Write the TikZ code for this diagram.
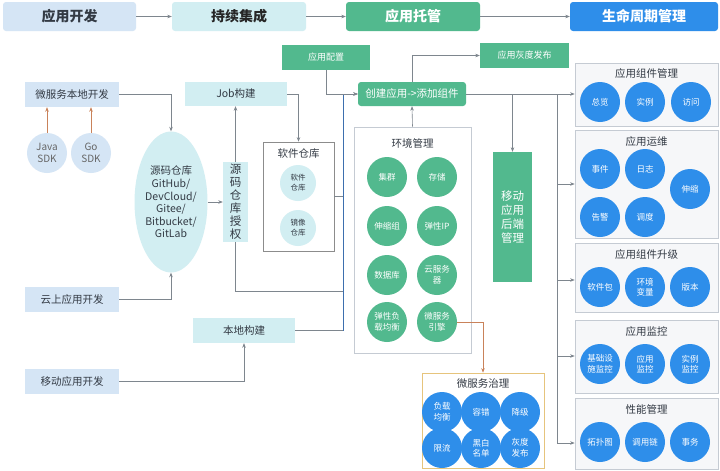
\documentclass[tikz,border=0pt]{standalone}
\usepackage{fontspec}
\setmainfont{Noto Sans CJK SC}
\usetikzlibrary{arrows.meta,shapes.geometric}
\definecolor{devc}{HTML}{D5E5F5}
\definecolor{cic}{HTML}{D2EEF2}
\definecolor{grn}{HTML}{52B98E}
\definecolor{blu}{HTML}{2E8EEA}
\definecolor{txt}{HTML}{333A44}
\definecolor{lc}{HTML}{7E868E}
\definecolor{orn}{HTML}{C9825A}
\definecolor{bln}{HTML}{3D6FAE}
\definecolor{pgray}{HTML}{C5CBD3}
\definecolor{panelc}{HTML}{F6F7F9}
\definecolor{yel}{HTML}{E6C47C}
\tikzset{
  hdr/.style={rounded corners=3pt, minimum height=29, inner sep=0, font=\fontsize{14}{16}\selectfont\bfseries},
  devbox/.style={fill=devc, minimum width=94, minimum height=25, inner sep=0, text=txt, font=\fontsize{10.5}{12}\selectfont},
  cibox/.style={fill=cic, minimum height=25, inner sep=0, text=txt, font=\fontsize{10.5}{12}\selectfont},
  gbox/.style={fill=grn, minimum height=25, inner sep=0, text=white, font=\fontsize{9}{11}\selectfont},
  gcirc/.style={circle, fill=grn, minimum size=40, inner sep=0, text=white, align=center, font=\fontsize{8.5}{10.5}\selectfont},
  bcirc/.style={circle, fill=blu, minimum size=40, inner sep=0, text=white, align=center, font=\fontsize{8.5}{10.5}\selectfont},
  ccirc/.style={circle, fill=cic, minimum size=36, inner sep=0, text=txt, align=center, font=\fontsize{7.5}{10}\selectfont},
  panel/.style={draw=pgray, fill=panelc, line width=0.7pt, inner sep=0},
  ptitle/.style={text=txt, font=\fontsize{10.5}{12}\selectfont, inner sep=0},
  ln/.style={draw=lc, line width=0.6pt},
  arr/.style={ln, -{Stealth[length=4.5pt,width=3.5pt]}},
  oarr/.style={draw=orn, line width=0.6pt, -{Stealth[length=4.5pt,width=3.5pt]}},
}
\begin{document}
\begin{tikzpicture}[x=1pt,y=-1pt]
\useasboundingbox (0,0) rectangle (720,471);
\fill[white] (0,0) rectangle (720,471);

% header
\node[hdr, fill=devc, text=txt, minimum width=133] (hdev) at (69.5,16.5) {应用开发};
\node[hdr, fill=cic, text=black!85, minimum width=134] (hci) at (239,16.5) {持续集成};
\node[hdr, fill=grn, text=white, minimum width=134] (hhost) at (413,16.5) {应用托管};
\node[hdr, fill=blu, text=white, minimum width=148] (hlife) at (644,16.5) {生命周期管理};
\draw[arr] (hdev) -- (hci);
\draw[arr] (hci) -- (hhost);
\draw[arr] (hhost) -- (hlife);

% left: development
\node[devbox] (mlocal) at (72,94.5) {微服务本地开发};
\node[devbox] (cloud) at (72,299.5) {云上应用开发};
\node[devbox] (mdev) at (72,381.5) {移动应用开发};
\node[circle, fill=devc, minimum size=40, inner sep=0, text=black!60, align=center, font=\fontsize{10}{12}\selectfont] (java) at (47,153) {Java\\SDK};
\node[circle, fill=devc, minimum size=40, inner sep=0, text=black!60, align=center, font=\fontsize{10}{12}\selectfont] (go) at (91,153) {Go\\SDK};
\draw[oarr] (java) -- (java |- mlocal.south);
\draw[oarr] (go) -- (go |- mlocal.south);

% source repo
\node[ellipse, fill=cic, minimum width=72, minimum height=141, inner sep=0, text=txt, align=center, font=\fontsize{10.5}{12.6}\selectfont] (repo) at (171,202) {源码仓库\\GitHub/\\DevCloud/\\Gitee/\\Bitbucket/\\GitLab};
\node[cibox, minimum width=25, minimum height=80, align=center, font=\fontsize{11.5}{13}\selectfont] (auth) at (235.5,202) {源\\码\\仓\\库\\授\\权};
\node[cibox, minimum width=102, minimum height=24] (job) at (236,94) {Job构建};
\node[cibox, minimum width=102] (local) at (244,330.5) {本地构建};

% software repo panel
\node[draw=black!45, fill=white, line width=0.7pt, minimum width=71, minimum height=109, inner sep=0] (soft) at (298.5,196.5) {};
\node[ptitle] (softt) at (298.5,154) {软件仓库};
\node[ccirc] (sw1) at (298,183) {软件\\仓库};
\node[ccirc] (sw2) at (298,228) {镜像\\仓库};

\draw[arr] (mlocal.east) -| (repo.north);
\draw[arr] (cloud.east) -| (repo.south);
\draw[arr] (repo.east) -- (auth.west);
\draw[arr] (auth.north) -- (auth.north |- job.south);
\draw[arr] (job.east) -| (soft.north);
\draw[arr] (mdev.east) -| (local.south);

% hosting
\node[gbox, minimum width=88] (config) at (326,57.5) {应用配置};
\node[gbox, minimum width=89] (gray) at (524.5,55.5) {应用灰度发布};
\node[gbox, rounded corners=3pt, minimum width=108, minimum height=24, font=\fontsize{10.5}{12}\selectfont] (create) at (412,94) {创建应用->添加组件};
\coordinate (j1) at (343,94);
\coordinate (j2) at (343,291);
\coordinate (j3) at (343,330.5);
\draw[ln] (auth.south) |- (j2);
\draw[ln] (soft.east) -- (soft.east -| j1);
\draw[ln] (local.east) -- (j3);
\draw[draw=bln, line width=0.7pt] (j3) -- (j1);
\draw[arr] (j1) -- (create.west);
\draw[arr] (config.south) |- (create.west);
\draw[arr] (create.north) |- (gray.west);

% environment panel
\node[draw=pgray, fill=white, line width=0.7pt, minimum width=117, minimum height=226, inner sep=0] (env) at (412.5,240) {};
\node[ptitle] (envt) at (412.5,143) {环境管理};
\draw[arr] (env.north) -- (create.south);
\node[gcirc] (e1) at (387,177) {集群};
\node[gcirc] (e2) at (437,177) {存储};
\node[gcirc] (e3) at (387,226) {伸缩组};
\node[gcirc] (e4) at (437,226) {弹性IP};
\node[gcirc] (e5) at (387,275) {数据库};
\node[gcirc] (e6) at (437,275) {云服务\\器};
\node[gcirc] (e7) at (387,322) {弹性负\\载均衡};
\node[gcirc] (e8) at (437,322) {微服务\\引擎};

% mobile backend
\node[gbox, minimum width=39, minimum height=130, align=center, font=\fontsize{11.5}{14}\selectfont] (mback) at (512.5,217) {移动\\应用\\后端\\管理};
\coordinate (jm) at (512.5,94);
\draw[arr] (jm) -- (mback.north);

% microservice governance
\node[draw=yel, fill=white, line width=0.7pt, minimum width=122, minimum height=95, inner sep=0] (msgov) at (483,420.5) {};
\node[ptitle] (msgovt) at (483,384) {微服务治理};
\draw[oarr] (e8.east) -| (msgov.north);
\node[bcirc] (m1) at (442,412) {负载\\均衡};
\node[bcirc] (m2) at (481,412) {容错};
\node[bcirc] (m3) at (520,412) {降级};
\node[bcirc] (m4) at (442,448) {限流};
\node[bcirc] (m5) at (481,448) {黑白\\名单};
\node[bcirc] (m6) at (520,448) {灰度\\发布};

% lifecycle panels
\node[panel, minimum width=143, minimum height=63] (b1) at (646.5,94.5) {};
\node[ptitle] (b1t) at (646.5,74) {应用组件管理};
\node[bcirc] (c11) at (600,102) {总览};
\node[bcirc] (c12) at (645,102) {实例};
\node[bcirc] (c13) at (691,102) {访问};

\node[panel, minimum width=143, minimum height=108] (b2) at (646.5,184) {};
\node[ptitle] (b2t) at (646.5,142) {应用运维};
\node[bcirc] (c21) at (600,169) {事件};
\node[bcirc] (c22) at (645,169) {日志};
\node[bcirc] (c23) at (600,217) {告警};
\node[bcirc] (c24) at (645,217) {调度};
\node[bcirc] (c25) at (690,189) {伸缩};

\node[panel, minimum width=143, minimum height=69] (b3) at (646.5,277.5) {};
\node[ptitle] (b3t) at (646.5,255) {应用组件升级};
\node[bcirc] (c31) at (600,287) {软件包};
\node[bcirc] (c32) at (645,287) {环境\\变量};
\node[bcirc] (c33) at (690,287) {版本};

\node[panel, minimum width=143, minimum height=73] (b4) at (646.5,356.5) {};
\node[ptitle] (b4t) at (646.5,332) {应用监控};
\node[bcirc] (c41) at (600,364) {基础设\\施监控};
\node[bcirc] (c42) at (645,364) {应用\\监控};
\node[bcirc] (c43) at (690,364) {实例\\监控};

\node[panel, minimum width=143, minimum height=71] (b5) at (646.5,433.5) {};
\node[ptitle] (b5t) at (646.5,409) {性能管理};
\node[bcirc] (c51) at (600,442) {拓扑图};
\node[bcirc] (c52) at (645,442) {调用链};
\node[bcirc] (c53) at (690,442) {事务};

% trunk
\coordinate (t1) at (557,94);
\coordinate (t2) at (557,184);
\coordinate (t3) at (557,280);
\coordinate (t4) at (557,356);
\coordinate (t5) at (557,443);
\draw[arr] (create.east) -- (create.east -| b1.west);
\draw[ln] (t1) -- (t5);
\draw[arr] (t2) -- (t2 -| b2.west);
\draw[arr] (t3) -- (t3 -| b3.west);
\draw[arr] (t4) -- (t4 -| b4.west);
\draw[arr] (t5) -- (t5 -| b5.west);
\end{tikzpicture}
\end{document}
